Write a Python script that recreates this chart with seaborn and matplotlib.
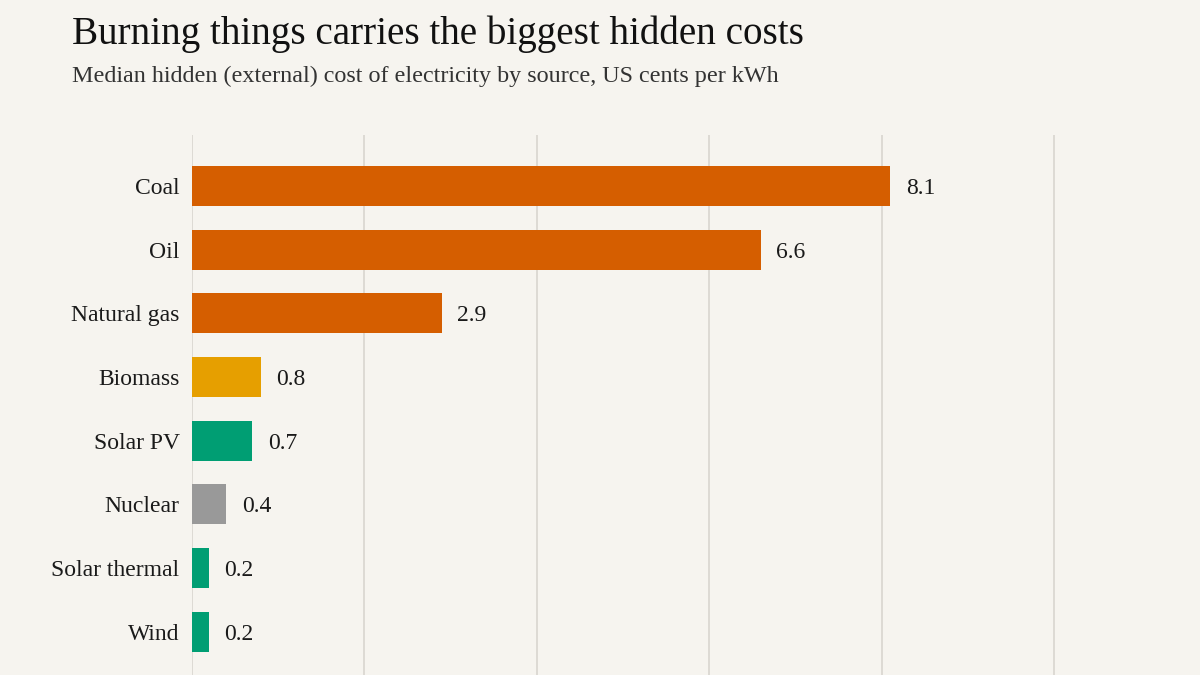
import pandas as pd
import seaborn as sns
import matplotlib.pyplot as plt

sources = ['Coal', 'Oil', 'Natural gas', 'Biomass', 'Solar PV', 'Nuclear', 'Solar thermal', 'Wind']
costs = [8.1, 6.6, 2.9, 0.8, 0.7, 0.4, 0.2, 0.2]
colors = ['#D55E00', '#D55E00', '#D55E00', '#E69F00', '#009E73', '#999999', '#009E73', '#009E73']

df = pd.DataFrame({'source': sources, 'cost': costs})
bg = '#F6F4EF'

sns.set_theme(style='white')
plt.rcParams['font.family'] = ['Liberation Serif', 'DejaVu Serif']

fig = plt.figure(figsize=(12, 6.75), dpi=100, facecolor=bg)
ax = fig.add_axes([0.16, 0.0, 0.84, 0.8])
ax.set_facecolor(bg)

sns.barplot(data=df, x='cost', y='source', hue='source', palette=dict(zip(sources, colors)),
            legend=False, width=0.63, saturation=1, linewidth=0, ax=ax, orient='h')

ax.set_xlim(0, 11.69)
ax.set_ylim(7.68, -0.8)
ax.set_xticks([0, 2, 4, 6, 8, 10])
ax.set_xticklabels([])
ax.grid(axis='x', color='#D8D5CF', lw=1.2)
ax.set_axisbelow(True)
ax.tick_params(axis='x', length=0)
ax.tick_params(axis='y', length=0, labelsize=17, labelcolor='#1a1a1a', pad=9)
for lbl in ax.get_yticklabels():
    lbl.set_verticalalignment('center_baseline')
for s in ax.spines.values():
    s.set_visible(False)
ax.set_xlabel('')
ax.set_ylabel('')

for i, v in enumerate(costs):
    ax.annotate(f'{v:.1f}', (v, i), xytext=(11, 0), textcoords='offset points',
                va='center_baseline', ha='left', fontsize=17, color='#1a1a1a')

fig.text(0.06, 0.935, 'Burning things carries the biggest hidden costs',
         fontsize=28.2, color='#111111', va='baseline')
fig.text(0.06, 0.878, 'Median hidden (external) cost of electricity by source, US cents per kWh',
         fontsize=17.4, color='#333333', va='baseline')

fig.savefig('out.png', dpi=100, facecolor=bg)
